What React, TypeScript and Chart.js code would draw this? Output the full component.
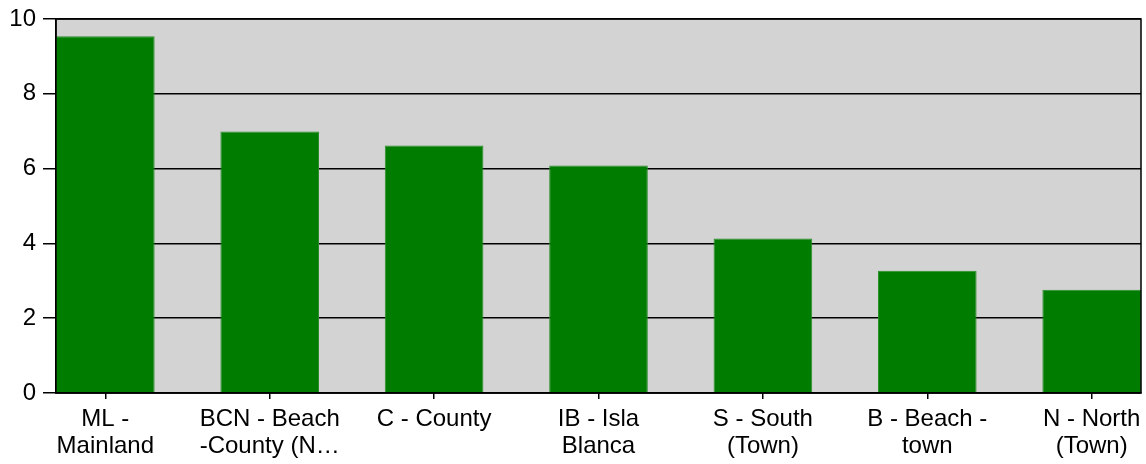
import React, { useEffect, useRef } from "react";
import { Chart, registerables } from "chart.js";

Chart.register(...registerables);

const categories: (string | string[])[] = [
  ["ML -", "Mainland"],
  ["BCN - Beach", "-County (N…"],
  "C - County",
  ["IB - Isla", "Blanca"],
  ["S - South", "(Town)"],
  ["B - Beach -", "town"],
  ["N - North", "(Town)"],
];
const values: number[] = [9.54, 6.99, 6.62, 6.08, 4.13, 3.27, 2.76];
const yTicks: number[] = [0, 2, 4, 6, 8, 10];

const plotBg = {
  id: "plotBg",
  beforeDraw(chart: any) {
    const { ctx, chartArea: a } = chart;
    ctx.save();
    ctx.fillStyle = "#d3d3d3";
    ctx.fillRect(a.left, a.top, a.right - a.left, a.bottom - a.top);
    ctx.restore();
  },
  afterDraw(chart: any) {
    const { ctx, chartArea: a } = chart;
    ctx.save();
    ctx.strokeStyle = "#000";
    ctx.lineWidth = 1.5;
    ctx.strokeRect(a.left, a.top, a.right - a.left, a.bottom - a.top);
    ctx.restore();
  },
};

const FONT = "'Liberation Sans', Arial, sans-serif";

export default function App() {
  const ref = useRef<HTMLCanvasElement>(null);
  useEffect(() => {
    document.body.style.margin = "0";
    const chart = new Chart(ref.current!, {
      type: "bar",
      data: {
        datasets: [
          {
            data: values.map((v, i) => ({ x: i, y: v })),
            backgroundColor: "#007c00",
            borderColor: "#2a8f2a",
            borderWidth: 1,
            barPercentage: 0.6,
            categoryPercentage: 1,
          },
        ],
      },
      options: {
        responsive: false,
        animation: false,
        layout: { padding: { top: 19, right: 5, left: 0, bottom: 0 } },
        plugins: { legend: { display: false }, tooltip: { enabled: false } },
        scales: {
          x: {
            type: "linear",
            min: -0.3,
            max: 6.3,
            offset: false,
            afterBuildTicks(scale: any) {
              scale.ticks = categories.map((_, i) => ({ value: i }));
            },
            grid: {
              display: true,
              offset: false,
              drawOnChartArea: false,
              drawTicks: true,
              tickLength: 6,
              color: "#000",
              lineWidth: 1.5,
            },
            border: { color: "#000", width: 1.5 },
            ticks: {
              color: "#000",
              padding: 7,
              maxRotation: 0,
              autoSkip: false,
              callback: (v: any) => categories[Number(v)] ?? "",
              font: { family: FONT, size: 24, lineHeight: 1.13 },
            },
            afterFit(scale: any) {
              scale.height = 71;
              scale.paddingLeft = 0;
              scale.paddingRight = 0;
            },
          },
          y: {
            min: 0,
            max: 10,
            afterBuildTicks(scale: any) {
              scale.ticks = yTicks.map((v) => ({ value: v }));
            },
            grid: {
              color: "#000",
              lineWidth: 1.5,
              drawTicks: true,
              tickLength: 13,
            },
            border: { color: "#000", width: 1.5 },
            ticks: {
              color: "#000",
              padding: 7,
              font: { family: FONT, size: 24 },
            },
            afterFit(scale: any) {
              scale.width = 56;
              scale.paddingTop = 0;
              scale.paddingBottom = 0;
            },
          },
        },
      },
      plugins: [plotBg],
    });
    return () => chart.destroy();
  }, []);
  return <canvas ref={ref} width={1146} height={464} style={{ display: "block" }} />;
}
